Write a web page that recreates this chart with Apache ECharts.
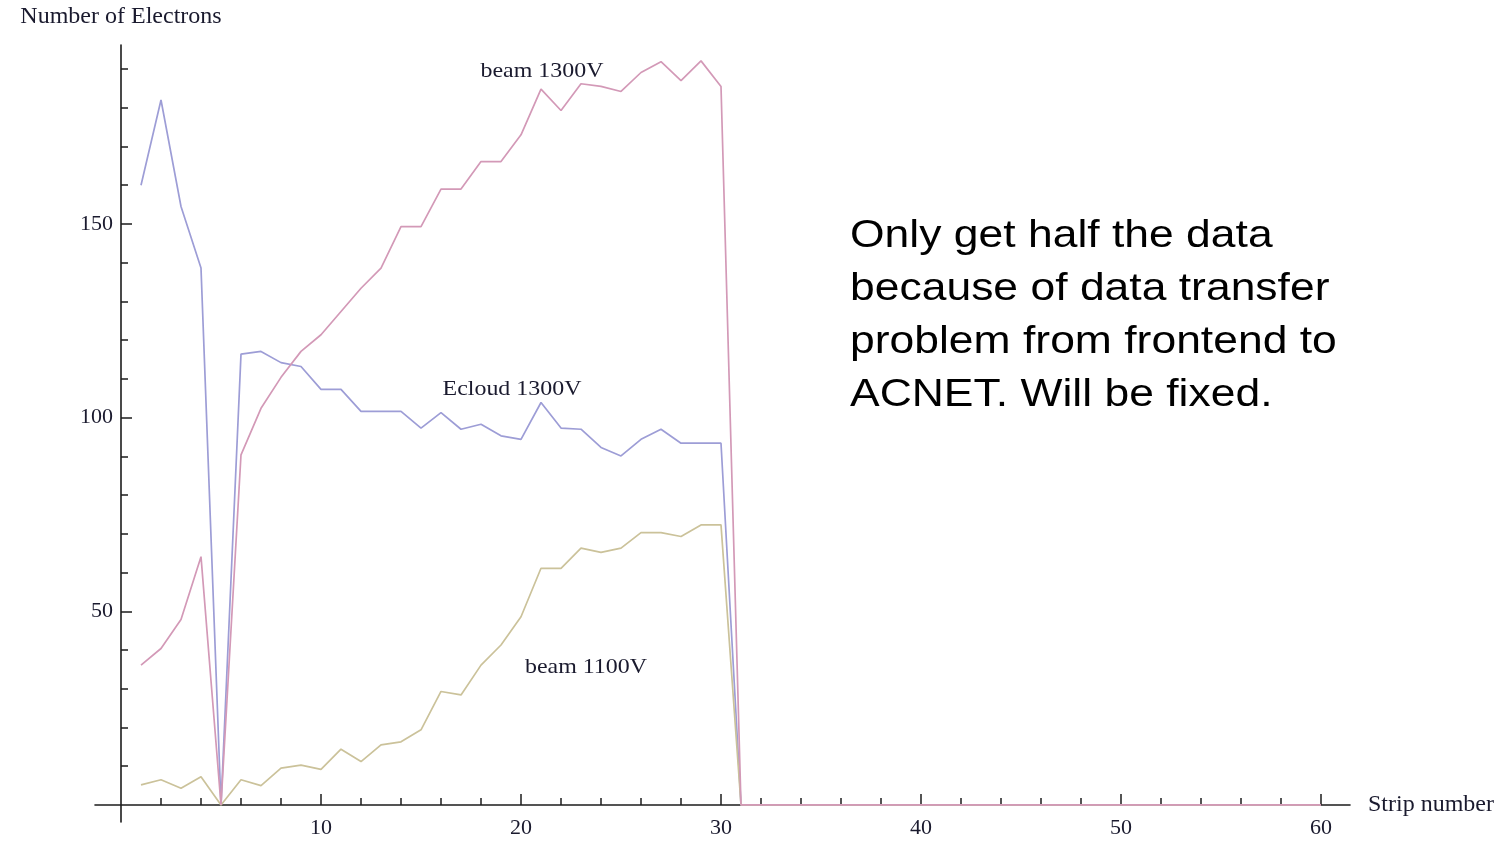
<!DOCTYPE html>
<html>
<head>
<meta charset="utf-8">
<script src="https://cdn.jsdelivr.net/npm/echarts@6/dist/echarts.min.js"></script>
<style>
html,body{margin:0;padding:0;background:#fff;}
#chart{width:1503px;height:842px;}
</style>
</head>
<body>
<div id="chart"></div>
<script>
const strips = [1,2,3,4,5,6,7,8,9,10,11,12,13,14,15,16,17,18,19,20,21,22,23,24,25,26,27,28,29,30,
  31,32,33,34,35,36,37,38,39,40,41,42,43,44,45,46,47,48,49,50,51,52,53,54,55,56,57,58,59,60];
const ecloud1300 = [160,182,154.5,138.6,0,116.4,117.1,114.2,113.2,107.3,107.3,101.6,101.6,101.6,97.3,
  101.3,97,98.3,95.3,94.4,103.9,97.3,97,92.3,90.1,94.4,97,93.4,93.4,93.4,
  0,0,0,0,0,0,0,0,0,0,0,0,0,0,0,0,0,0,0,0,0,0,0,0,0,0,0,0,0,0];
const beam1300 = [36.1,40.4,47.9,64.1,0,90.4,102.4,110.4,117.1,121.4,127.4,133.4,138.6,149.3,149.3,
  159,159,166.1,166.1,173,184.8,179.3,186.2,185.5,184.2,189.1,191.9,187,192.1,185.5,
  0,0,0,0,0,0,0,0,0,0,0,0,0,0,0,0,0,0,0,0,0,0,0,0,0,0,0,0,0,0];
const beam1100 = [5.2,6.5,4.3,7.3,0,6.5,5,9.5,10.3,9.2,14.4,11.2,15.5,16.3,19.4,
  29.3,28.4,36.1,41.3,48.6,61.1,61.1,66.3,65.2,66.3,70.3,70.3,69.3,72.3,72.3,
  0,0,0,0,0,0,0,0,0,0,0,0,0,0,0,0,0,0,0,0,0,0,0,0,0,0,0,0,0,0];

const xMajorTicks = [10,20,30,40,50,60];
const xMinorTicks = [2,4,6,8,12,14,16,18,22,24,26,28,32,34,36,38,42,44,46,48,52,54,56,58];
const yMajorTicks = [50,100,150];
const yMinorTicks = [10,20,30,40,60,70,80,90,110,120,130,140,160,170,180,190];

const seriesLabels = [
  {text:'beam 1300V', x:21.05, y:189.3},
  {text:'Ecloud 1300V', x:19.55, y:107.2},
  {text:'beam 1100V', x:23.25, y:35.4}
];
const note = 'Only get half the data\nbecause of data transfer\nproblem from frontend to\nACNET. Will be fixed.';

const serif = '"Liberation Serif", "DejaVu Serif", serif';
const axisColor = '#1c1c1c';
const X_MIN = -1.3, X_MAX = 61.45, Y_MIN = -4.4, Y_MAX = 196.2;

function pairs(vals){ return strips.map((s,i)=>[s, vals[i]]); }

const chart = echarts.init(document.getElementById('chart'), null, {renderer:'canvas'});

function xAxisDef(major){
  return {
    type:'value', min:X_MIN, max:X_MAX, position:'bottom',
    axisLine:{show:major, onZero:true, onZeroAxisIndex:0, lineStyle:{color:axisColor, width:1.6}},
    axisTick:{show:true, inside:true, length: major?11:7, customValues: major?xMajorTicks:xMinorTicks,
      lineStyle:{color:axisColor, width:1.5}},
    axisLabel:{show:major, customValues:xMajorTicks, margin:-5, fontFamily:serif, fontSize:22, color:'#1a1a2e'},
    splitLine:{show:false},
    name: major ? 'Strip number' : '',
    nameLocation:'end', nameGap:18,
    nameTextStyle:{fontFamily:serif, fontSize:24, color:'#1a1a2e', verticalAlign:'middle'}
  };
}
function yAxisDef(major){
  return {
    type:'value', min:Y_MIN, max:Y_MAX, position:'left',
    axisLine:{show:major, onZero:true, onZeroAxisIndex:0, lineStyle:{color:axisColor, width:1.6}},
    axisTick:{show:true, inside:true, length: major?11:7, customValues: major?yMajorTicks:yMinorTicks,
      lineStyle:{color:axisColor, width:1.5}},
    axisLabel:{show:major, customValues:yMajorTicks, margin:-18, fontFamily:serif, fontSize:22, color:'#1a1a2e'},
    splitLine:{show:false},
    name: major ? 'Number of Electrons' : '',
    nameLocation:'end', nameGap:28,
    nameTextStyle:{fontFamily:serif, fontSize:24, color:'#1a1a2e', align:'center', verticalAlign:'middle'}
  };
}

const lineStyleFor = c => ({color:c, width:1.7});

chart.setOption({
  animation:false,
  backgroundColor:'#ffffff',
  grid:{left:95, right:153, top:45, bottom:20, containLabel:false, outerBoundsMode:'none'},
  xAxis:[xAxisDef(true), xAxisDef(false)],
  yAxis:[yAxisDef(true), yAxisDef(false)],
  series:[
    {name:'Ecloud 1300V', type:'line', data:pairs(ecloud1300), showSymbol:false, symbol:'none',
      lineStyle:lineStyleFor('#9d9dd6'), itemStyle:{color:'#9d9dd6'}, z:3},
    {name:'beam 1100V', type:'line', data:pairs(beam1100), showSymbol:false, symbol:'none',
      lineStyle:lineStyleFor('#cbc29a'), itemStyle:{color:'#cbc29a'}, z:3},
    {name:'beam 1300V', type:'line', data:pairs(beam1300), showSymbol:false, symbol:'none',
      lineStyle:lineStyleFor('#d399b7'), itemStyle:{color:'#d399b7'}, z:4}
  ]
});

const graphics = seriesLabels.map(l => {
  const p = chart.convertToPixel({xAxisIndex:0, yAxisIndex:0}, [l.x, l.y]);
  return {
    type:'text', x:p[0], y:p[1], scaleX:1.14, z:10,
    style:{text:l.text, font:'21px ' + serif, fill:'#1a1a2e', align:'center', verticalAlign:'middle'}
  };
});
graphics.push({
  type:'text', x:850, y:210, scaleX:1.14, z:10,
  style:{text:note, font:'39px "Liberation Sans", Arial, sans-serif', fill:'#000', lineHeight:53,
    align:'left', verticalAlign:'top'}
});
chart.setOption({graphic:graphics});
</script>
</body>
</html>
